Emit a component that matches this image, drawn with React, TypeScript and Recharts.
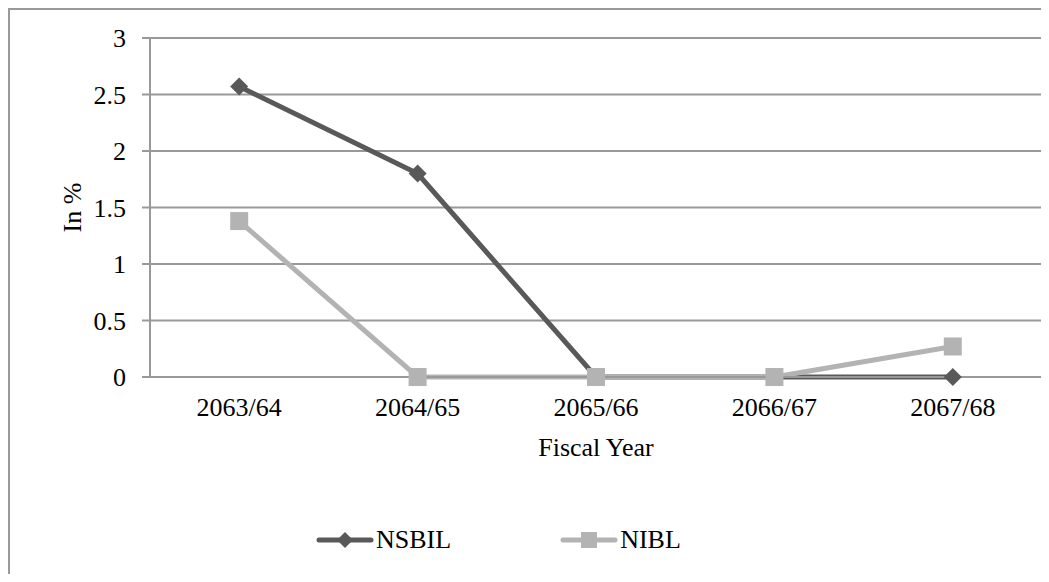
import React from 'react';
import { LineChart, Line, XAxis, YAxis, CartesianGrid, Legend } from 'recharts';

const years = ['2063/64', '2064/65', '2065/66', '2066/67', '2067/68'];
const nsbil = [2.57, 1.8, 0, 0, 0];
const nibl = [1.38, 0, 0, 0, 0.27];
const yTicks = [0, 0.5, 1, 1.5, 2, 2.5, 3];

const data = years.map((year, i) => ({ year, NSBIL: nsbil[i], NIBL: nibl[i] }));

const FONT = '"Liberation Serif", "Times New Roman", serif';
const FS = 26;
const DARK = '#595959';
const LIGHT = '#b3b3b3';
const GRID = '#999999';

const Diamond = (props: any) => {
  const { cx, cy, fill, size = 9 } = props;
  if (cx == null || cy == null) return null;
  return (
    <path
      d={`M${cx},${cy - size} L${cx + size},${cy} L${cx},${cy + size} L${cx - size},${cy} Z`}
      fill={fill}
    />
  );
};

const Square = (props: any) => {
  const { cx, cy, fill, size = 9 } = props;
  if (cx == null || cy == null) return null;
  return <rect x={cx - size} y={cy - size} width={size * 2} height={size * 2} fill={fill} />;
};

const legendItems = [
  { name: 'NSBIL', color: DARK, marker: 'diamond' },
  { name: 'NIBL', color: LIGHT, marker: 'square' },
];

const LegendContent = () => (
  <div style={{ display: 'flex', paddingLeft: 306, fontFamily: FONT, fontSize: FS, color: '#000' }}>
    {legendItems.map((item, i) => (
      <div key={item.name} style={{ display: 'flex', alignItems: 'center', marginRight: i === 0 ? 109 : 0 }}>
        <svg width={58} height={22} style={{ display: 'block' }}>
          <line x1={3} y1={11} x2={55} y2={11} stroke={item.color} strokeWidth={5} strokeLinecap="round" />
          {item.marker === 'diamond' ? (
            <Diamond cx={29} cy={11} size={8} fill={item.color} />
          ) : (
            <Square cx={29} cy={11} size={8} fill={item.color} />
          )}
        </svg>
        <span style={{ marginLeft: 2 }}>{item.name}</span>
      </div>
    ))}
  </div>
);

const YLabel = (props: any) => {
  const vb = props.viewBox;
  const x = vb.x + 62;
  const y = vb.y + vb.height / 2;
  return (
    <text
      x={x}
      y={y}
      transform={`rotate(-90, ${x}, ${y})`}
      textAnchor="middle"
      dominantBaseline="central"
      fontFamily={FONT}
      fontSize={FS}
      fill="#000"
    >
      In %
    </text>
  );
};

const XLabel = (props: any) => {
  const vb = props.viewBox;
  return (
    <text
      x={vb.x + vb.width / 2}
      y={vb.y + 79}
      textAnchor="middle"
      fontFamily={FONT}
      fontSize={FS}
      fill="#000"
    >
      Fiscal Year
    </text>
  );
};

export default function App() {
  return (
    <div
      style={{
        width: 1039,
        height: 574,
        marginBottom: -10,
        borderLeft: `2px solid ${GRID}`,
        borderTop: `2px solid ${GRID}`,
        background: '#fff',
      }}
    >
      <LineChart
        width={1039}
        height={564}
        data={data}
        margin={{ top: 28, right: 7, bottom: 97, left: 0 }}
        style={{ fontFamily: FONT }}
      >
        <CartesianGrid vertical={false} stroke={GRID} strokeWidth={2} />
        <XAxis
          dataKey="year"
          scale="band"
          height={100}
          axisLine={{ stroke: GRID, strokeWidth: 2 }}
          tickLine={false}
          tickSize={0}
          tickMargin={21}
          tick={{ fontSize: FS, fill: '#000', fontFamily: FONT }}
          label={<XLabel />}
        />
        <YAxis
          width={140}
          domain={[0, 3]}
          ticks={yTicks}
          axisLine={{ stroke: GRID, strokeWidth: 2 }}
          tickLine={{ stroke: GRID, strokeWidth: 2 }}
          tickSize={8}
          tickMargin={16}
          tick={{ fontSize: FS, fill: '#000', fontFamily: FONT }}
          label={<YLabel />}
        />
        <Legend
          layout="horizontal"
          verticalAlign="middle"
          align="center"
          wrapperStyle={{ top: 515, left: 0, width: 1039 }}
          content={<LegendContent />}
        />
        <Line
          type="linear"
          dataKey="NSBIL"
          stroke={DARK}
          strokeWidth={5}
          dot={(p: any) => <Diamond key={`d-${p.index}`} {...p} fill={DARK} size={9} />}
          activeDot={false}
          isAnimationActive={false}
        />
        <Line
          type="linear"
          dataKey="NIBL"
          stroke={LIGHT}
          strokeWidth={5}
          dot={(p: any) => <Square key={`s-${p.index}`} {...p} fill={LIGHT} size={9} />}
          activeDot={false}
          isAnimationActive={false}
        />
      </LineChart>
    </div>
  );
}
